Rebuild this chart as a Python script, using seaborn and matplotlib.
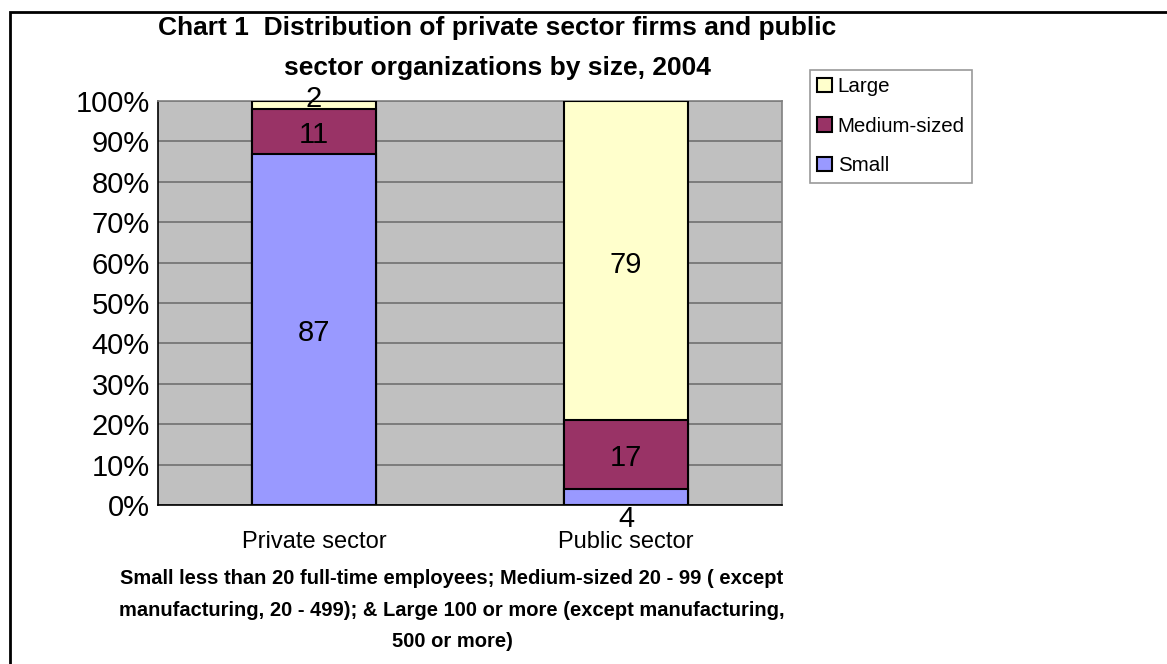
import matplotlib
matplotlib.use("Agg")
import matplotlib.pyplot as plt
import matplotlib.patches as mpatches
import numpy as np
import pandas as pd
import seaborn as sns

# Chart data: share of units by size class (%)
sectors = ["Private sector", "Public sector"]
small = [87, 4]
medium = [11, 17]
large = [2, 79]
size_labels = ["Small", "Medium-sized", "Large"]
size_colors = {"Small": "#9999FF", "Medium-sized": "#993366", "Large": "#FFFFCC"}
y_ticks = [0, 10, 20, 30, 40, 50, 60, 70, 80, 90, 100]

title = ("Chart 1  Distribution of private sector firms and public\n"
         "sector organizations by size, 2004")
note = ("Small less than 20 full-time employees; Medium-sized 20 - 99 ( except\n"
        "manufacturing, 20 - 499); & Large 100 or more (except manufacturing,\n"
        "500 or more)")

sns.set_theme(style="white")
plt.rcParams["font.family"] = ["Liberation Sans", "DejaVu Sans"]
plt.rcParams.update({"text.color": "black", "axes.labelcolor": "black",
                     "xtick.color": "black", "ytick.color": "black"})

df = pd.DataFrame({"sector": sectors, "Small": small,
                   "Medium-sized": medium, "Large": large})
# cumulative tops of each stacked segment
df["top_small"] = df["Small"]
df["top_medium"] = df["Small"] + df["Medium-sized"]
df["top_large"] = df["top_medium"] + df["Large"]

fig = plt.figure(figsize=(11.67, 6.64), dpi=100)
ax = fig.add_axes([158 / 1167, 1 - 505 / 664, (782 - 158) / 1167, (505 - 101) / 664])
ax.set_facecolor("#C0C0C0")

# draw the tallest stack first, then overlay the lower ones
for col, name in [("top_large", "Large"), ("top_medium", "Medium-sized"),
                  ("top_small", "Small")]:
    sns.barplot(data=df, x="sector", y=col, color=size_colors[name],
                width=0.4, edgecolor="black", linewidth=1.5,
                saturation=1, ax=ax, zorder=3)

# segment value labels
for i, row in df.iterrows():
    segs = [("Small", 0, row["Small"]),
            ("Medium-sized", row["top_small"], row["Medium-sized"]),
            ("Large", row["top_medium"], row["Large"])]
    for name, base, val in segs:
        centre = base + val / 2
        dy = -4
        if val < 5:
            dy = 6 if base > 50 else -22
        ax.annotate(f"{val:g}", (i, centre), xytext=(0, dy),
                    textcoords="offset pixels", ha="center", va="center",
                    fontsize=21, color="black", zorder=5, annotation_clip=False)

ax.set_xlim(-0.5, 1.5)
ax.set_ylim(0, 100)
ax.set_yticks(y_ticks)
ax.set_yticklabels([f"{t}%" for t in y_ticks], fontsize=21)
ax.set_xticks([0, 1])
ax.set_xticklabels(sectors, fontsize=17)
ax.set_xlabel("")
ax.set_ylabel("")
ax.yaxis.grid(True, color="#707070", linewidth=1.2, zorder=0)
ax.set_axisbelow(True)
# category separators on x axis
ax.set_xticks([-0.5, 0.5, 1.5], minor=True)
ax.tick_params(axis="x", which="major", length=0, pad=19)
ax.tick_params(axis="x", which="minor", length=6, width=1, color="black", direction="out")
ax.tick_params(axis="y", length=6, width=1, color="black", direction="out", pad=0)
for s in ["left", "bottom"]:
    ax.spines[s].set_color("black")
    ax.spines[s].set_linewidth(1.2)
for s in ["top", "right"]:
    ax.spines[s].set_color("#808080")
    ax.spines[s].set_linewidth(1.2)

fig.text(497 / 1167, 1 - 48 / 664, title, ha="center", va="center",
         fontsize=19, fontweight="bold", linespacing=1.8)
fig.text(452 / 1167, 1 - 610 / 664, note, ha="center", va="center",
         fontsize=14.5, fontweight="bold", linespacing=1.85)

handles = [mpatches.Patch(facecolor=size_colors[n], edgecolor="black", linewidth=1.5, label=n)
           for n in ["Large", "Medium-sized", "Small"]]
leg = fig.legend(handles=handles, loc="upper left",
                 bbox_to_anchor=(810 / 1167, 1 - 70 / 664), fontsize=14.8,
                 frameon=True, fancybox=False, edgecolor="#808080",
                 handlelength=0.7, handleheight=0.7, handletextpad=0.3,
                 labelspacing=1.0, borderpad=0.35, borderaxespad=0)
leg.get_frame().set_linewidth(1.2)

# outer chart border (runs off the right and bottom edges)
fig.patches.append(mpatches.Rectangle((10 / 1167, -0.2), 1.2, 1.2 - 12 / 664,
                                      transform=fig.transFigure, fill=False,
                                      edgecolor="black", linewidth=2))

fig.savefig("out.png", dpi=100)
